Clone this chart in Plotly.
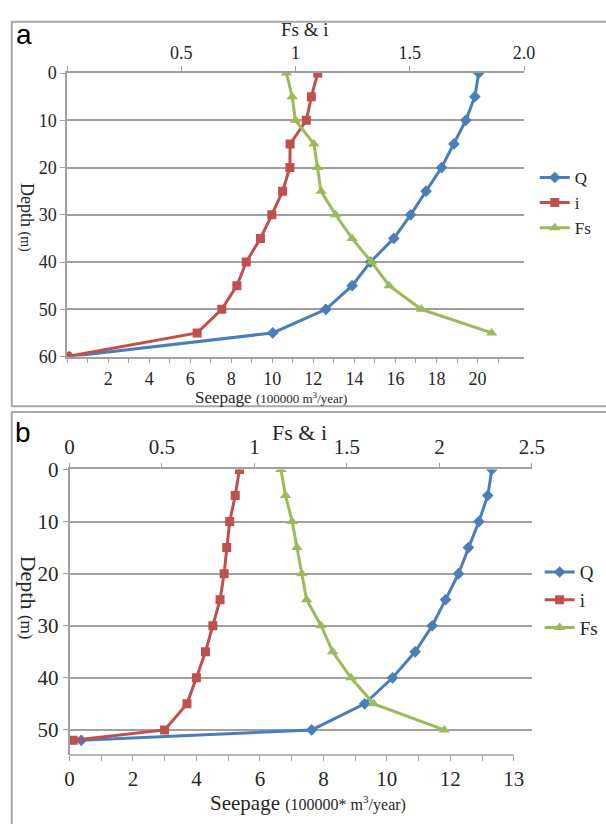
import plotly.graph_objects as go

# ---------------- data ----------------
depth_a = [0, 5, 10, 15, 20, 25, 30, 35, 40, 45, 50, 55, 60]
Q_a = [20.06, 19.87, 19.43, 18.85, 18.25, 17.49, 16.74, 15.92, 14.78, 13.89, 12.61, 10.02, 0.1]
i_a = [1.097, 1.069, 1.047, 0.976, 0.975, 0.943, 0.896, 0.846, 0.784, 0.743, 0.677, 0.569, 0.0]
depth_fs_a = [0, 5, 10, 15, 20, 25, 30, 35, 40, 45, 50, 55]
Fs_a = [0.960, 0.985, 0.999, 1.080, 1.096, 1.111, 1.175, 1.247, 1.332, 1.410, 1.550, 1.858]

depth_b = [0, 5, 10, 15, 20, 25, 30, 35, 40, 45, 50, 52]
Q_b = [13.31, 13.18, 12.90, 12.57, 12.26, 11.85, 11.43, 10.89, 10.18, 9.30, 7.63, 0.37]
i_b = [0.919, 0.896, 0.866, 0.850, 0.836, 0.814, 0.775, 0.735, 0.686, 0.635, 0.514, 0.02]
depth_fs_b = [0, 5, 10, 15, 20, 25, 30, 35, 40, 45, 50]
Fs_b = [1.143, 1.168, 1.204, 1.230, 1.256, 1.282, 1.360, 1.423, 1.522, 1.645, 2.026]

seep_ticks_a = [2, 4, 6, 8, 10, 12, 14, 16, 18, 20]
seep_minor_a = list(range(0, 22))
top_ticks_a = [0.5, 1, 1.5, 2]
top_text_a = ["0.5", "1", "1.5", "2.0"]
top_minor_a = [0]

seep_ticks_b = [0, 2, 4, 6, 8, 10, 12, 14]
seep_text_b = ["0", "2", "4", "6", "8", "10", "12", "13"]
seep_minor_b = [1, 3, 5, 7, 9, 11, 13]
top_ticks_b = [0, 0.5, 1, 1.5, 2, 2.5]
top_text_b = ["0", "0.5", "1", "1.5", "2", "2.5"]

depth_ticks_a = [0, 10, 20, 30, 40, 50, 60]
depth_ticks_b = [0, 10, 20, 30, 40, 50]

# ---------------- style ----------------
W, H = 606, 824
BLUE = "#4a7ebb"
RED = "#c0504d"
GREEN = "#9bbb59"
GRID = "#a0a0a0"
SERIF = "Liberation Serif"
TXT = "#262626"


def px(x):
    return x / W


def py(y):
    return 1 - y / H


fig = go.Figure()

# panel a
fig.add_trace(go.Scatter(x=Q_a, y=depth_a, xaxis="x", yaxis="y", name="Q", mode="lines+markers",
                         line=dict(color=BLUE, width=3), marker=dict(symbol="diamond", size=9, color=BLUE),
                         legend="legend"))
fig.add_trace(go.Scatter(x=i_a, y=depth_a, xaxis="x2", yaxis="y", name="i", mode="lines+markers",
                         line=dict(color=RED, width=3), marker=dict(symbol="square", size=9, color=RED),
                         legend="legend"))
fig.add_trace(go.Scatter(x=Fs_a, y=depth_fs_a, xaxis="x2", yaxis="y", name="Fs", mode="lines+markers",
                         line=dict(color=GREEN, width=3), marker=dict(symbol="triangle-up", size=10, color=GREEN),
                         legend="legend"))
# panel b
fig.add_trace(go.Scatter(x=Q_b, y=depth_b, xaxis="x3", yaxis="y2", name="Q", mode="lines+markers",
                         line=dict(color=BLUE, width=3), marker=dict(symbol="diamond", size=9, color=BLUE),
                         legend="legend2"))
fig.add_trace(go.Scatter(x=i_b, y=depth_b, xaxis="x4", yaxis="y2", name="i", mode="lines+markers",
                         line=dict(color=RED, width=3), marker=dict(symbol="square", size=9, color=RED),
                         legend="legend2"))
fig.add_trace(go.Scatter(x=Fs_b, y=depth_fs_b, xaxis="x4", yaxis="y2", name="Fs", mode="lines+markers",
                         line=dict(color=GREEN, width=3), marker=dict(symbol="triangle-up", size=10, color=GREEN),
                         legend="legend2"))

fa = dict(family=SERIF, size=18, color=TXT)
fb = dict(family=SERIF, size=21, color=TXT)

ax_a_x = [px(64), px(535)]
ax_a_y = [py(354), py(62.7)]
ax_b_x = [px(66.5), px(543)]
ax_b_y = [py(763.3), py(470)]

common = dict(showgrid=False, zeroline=False, linecolor=GRID, linewidth=1.5,
              ticks="outside", ticklen=5, tickcolor=GRID, tickwidth=1.2)


def minor(vals):
    return dict(tickmode="array", tickvals=vals, ticks="outside", ticklen=5,
                tickcolor=GRID, tickwidth=1.2, showgrid=False)


fig.update_layout(
    width=W, height=H, margin=dict(l=0, r=0, t=0, b=0),
    paper_bgcolor="white", plot_bgcolor="white",
    xaxis=dict(domain=ax_a_x, anchor="y", range=[0, 22.27], tickmode="array",
               tickvals=seep_ticks_a, minor=minor(seep_minor_a), showline=True, tickfont=fa, **common),
    xaxis2=dict(domain=ax_a_x, anchor="y", overlaying="x", side="top", range=[0, 2.0], tickmode="array",
                tickvals=top_ticks_a, ticktext=top_text_a, minor=minor(top_minor_a), showline=True,
                tickfont=fa, **common),
    yaxis=dict(domain=ax_a_y, anchor="x", range=[60, 0], tickmode="array", tickvals=depth_ticks_a,
               showline=True, tickfont=fa, **{**common, "showgrid": True}, gridcolor=GRID, gridwidth=1.8),
    xaxis3=dict(domain=ax_b_x, anchor="y2", range=[0, 14.57], tickmode="array",
                tickvals=seep_ticks_b, ticktext=seep_text_b, minor=minor(seep_minor_b), showline=False,
                tickfont=fb, ticklabelstandoff=0, **common),
    xaxis4=dict(domain=ax_b_x, anchor="y2", overlaying="x3", side="top", range=[0, 2.5], tickmode="array",
                tickvals=top_ticks_b, ticktext=top_text_b, showline=True, tickfont=fb, **common),
    yaxis2=dict(domain=ax_b_y, anchor="x3", range=[54.8, 0], tickmode="array", tickvals=depth_ticks_b,
                showline=True, tickfont=fb, **{**common, "showgrid": True}, gridcolor=GRID, gridwidth=1.8),
    legend=dict(x=px(546), y=py(152), xanchor="left", yanchor="top", bgcolor="rgba(0,0,0,0)",
                font=dict(family=SERIF, size=17, color=TXT), itemwidth=30, tracegroupgap=0),
    legend2=dict(x=px(551), y=py(556), xanchor="left", yanchor="top", bgcolor="rgba(0,0,0,0)",
                 font=dict(family=SERIF, size=19, color=TXT), itemwidth=30, tracegroupgap=0),
    showlegend=True,
)

# panel frames
fig.add_shape(type="rect", xref="paper", yref="paper", x0=px(7), x1=1.05, y0=py(405), y1=py(10),
              line=dict(color="#a8a8a8", width=2), layer="below")
fig.add_shape(type="rect", xref="paper", yref="paper", x0=px(7), x1=1.05, y0=-0.05, y1=py(411),
              line=dict(color="#a8a8a8", width=2), layer="below")
# bottom axis line of panel b stops at its last tick
fig.add_shape(type="line", xref="x3", yref="y2 domain", x0=0, x1=14, y0=0, y1=0,
              line=dict(color=GRID, width=1.5))


def note(text, x, y, size, family=SERIF, color=TXT, angle=0):
    fig.add_annotation(text=text, x=px(x), y=py(y), xref="paper", yref="paper",
                       xanchor="center", yanchor="middle", showarrow=False, textangle=angle,
                       font=dict(family=family, size=size, color=color))


# panel letters
note("a", 20, 23, 28, family="Liberation Sans", color="black")
note("b", 19, 432, 28, family="Liberation Sans", color="black")

# axis titles
note("Fs &amp; i", 309, 18, 19)
note("Fs &amp; i", 303, 432, 22)
note("Seepage <span style='font-size:13px'>(100000 m<sup>3</sup>/year)</span>", 274, 396, 17)
note("Seepage <span style='font-size:16px'>(100000* m<sup>3</sup>/year)</span>", 312, 813, 21)
note("Depth <span style='font-size:14px'>(m)</span>", 22, 211, 18, angle=90)
note("Depth <span style='font-size:17px'>(m)</span>", 24, 602, 22, angle=90)

fig.write_html("out.html")
